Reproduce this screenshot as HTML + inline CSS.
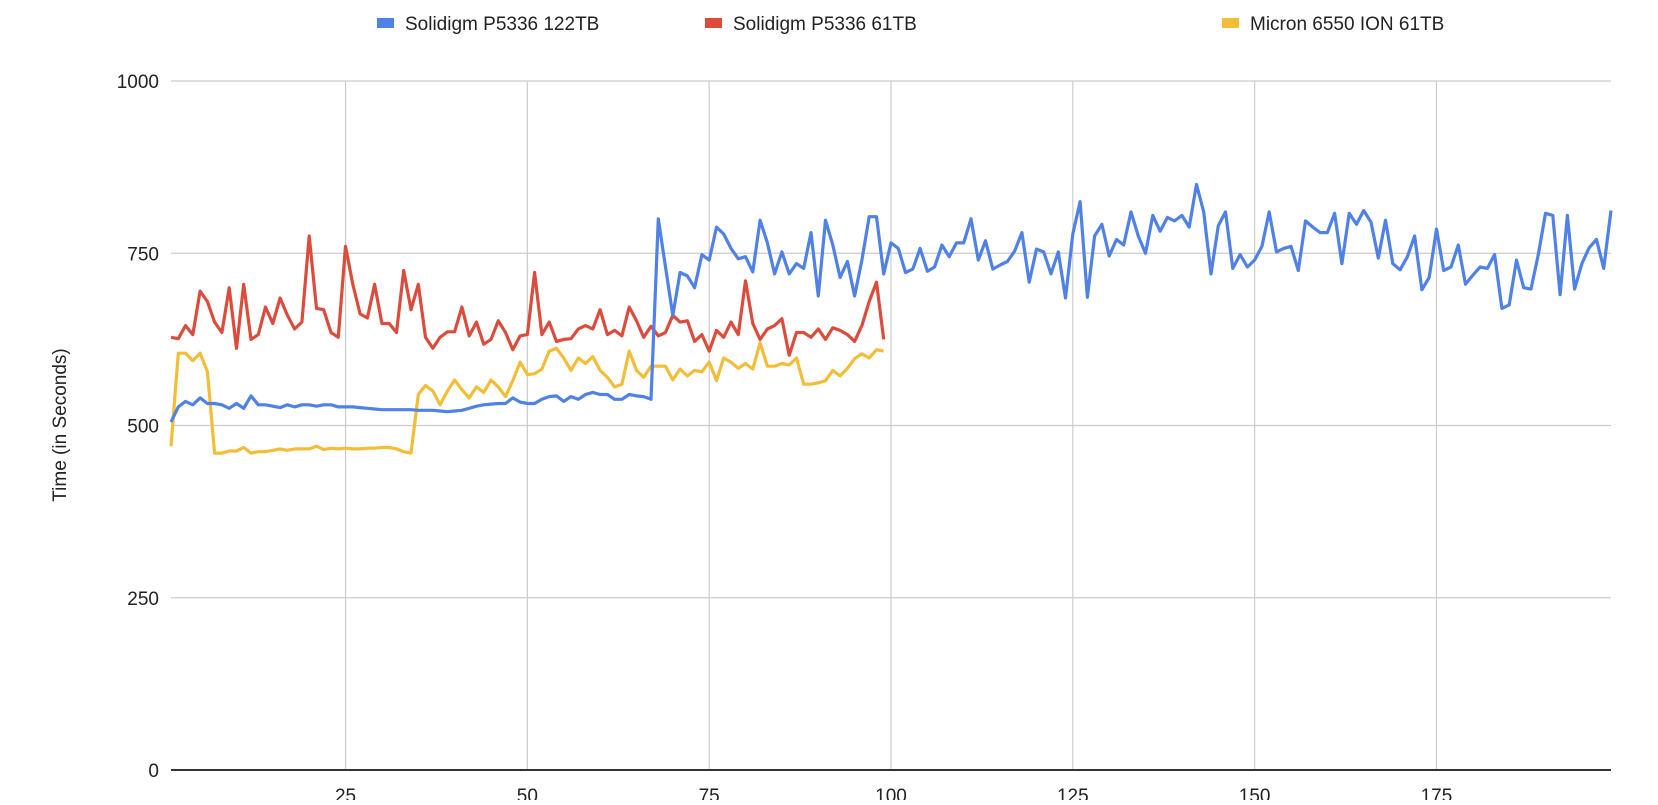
<!DOCTYPE html>
<html><head><meta charset="utf-8"><style>
body{margin:0;background:#fff;font-family:"Liberation Sans",Arial,sans-serif;overflow:hidden;}
svg text{font-family:"Liberation Sans",Arial,sans-serif;}
</style></head><body>
<svg id="chart" width="1658" height="800">
<g id="grid"></g>
<g id="axes"></g>
<g id="series"></g>
<g id="legend">
<rect x="377" y="18" width="17" height="10" fill="#4f81e6"/>
<text x="405" y="30" font-size="19" fill="#222">Solidigm P5336 122TB</text>
<rect x="705" y="18" width="17" height="10" fill="#dc4c3c"/>
<text x="733" y="30" font-size="19" fill="#222">Solidigm P5336 61TB</text>
<rect x="1222" y="18" width="17" height="10" fill="#f4bd38"/>
<text x="1250" y="30" font-size="19" fill="#222">Micron 6550 ION 61TB</text>
</g>
<text transform="translate(66,425) rotate(-90)" text-anchor="middle" font-size="19" fill="#222">Time (in Seconds)</text>
</svg>
<script>
const yTicks=[0,250,500,750,1000];
const xTicks=[25,50,75,100,125,150,175];
const blue=[505,527,535,530,540,532,532,530,525,532,525,543,530,530,528,526,530,527,530,530,528,530,530,527,527,527,526,525,524,523,523,523,523,523,522,522,522,521,520,521,522,525,528,530,531,532,532,540,534,532,532,538,542,543,535,542,538,545,548,545,545,538,538,545,543,542,538,800,730,660,722,717,700,748,740,788,778,757,742,745,723,798,765,720,752,720,735,728,780,688,798,762,715,738,688,740,803,803,720,765,757,722,727,757,724,730,762,745,765,765,800,740,768,727,733,738,753,780,708,756,752,720,752,685,778,825,686,775,792,746,770,762,810,775,750,805,782,802,797,805,788,850,810,720,790,810,728,748,730,740,760,810,752,757,760,725,797,788,780,780,808,735,808,792,812,795,743,798,735,726,745,775,697,715,785,725,730,762,705,718,730,728,748,670,675,740,700,698,748,808,805,690,805,698,735,758,770,728,812];
const red=[628,626,645,632,695,680,650,635,700,612,705,625,632,672,648,685,660,640,650,775,670,668,635,628,760,705,662,656,705,648,648,635,725,668,705,628,612,628,636,636,672,630,650,618,625,652,635,610,630,632,722,632,650,622,625,626,640,645,640,668,632,638,630,672,652,628,644,630,635,660,650,652,622,632,608,638,628,650,632,710,648,625,640,645,655,602,635,635,628,640,625,642,638,632,622,645,680,708,625];
const yellow=[470,605,605,594,605,578,460,460,463,463,468,460,462,462,464,466,464,466,466,466,470,465,467,466,467,466,466,467,467,468,468,466,462,460,545,558,550,530,550,566,552,540,556,548,566,556,542,565,592,574,575,582,608,612,598,580,598,590,600,580,570,556,560,608,580,570,586,586,586,566,582,572,580,578,592,565,598,592,583,590,582,620,586,586,590,588,598,560,560,562,565,580,572,583,597,604,598,610,608];
const L=171,R=1611,T=81,B=770;
const xMax=blue.length;
const xs=v=>L+(v-1)/(xMax-1)*(R-L);
const ys=v=>B-v/1000*(B-T);
const NS="http://www.w3.org/2000/svg";
const grid=document.getElementById('grid'),axes=document.getElementById('axes'),ser=document.getElementById('series');
function mk(tag,attrs,parent){const e=document.createElementNS(NS,tag);for(const k in attrs)e.setAttribute(k,attrs[k]);parent.appendChild(e);return e;}
xTicks.forEach(t=>{
 const l=mk('line',{x1:xs(t),x2:xs(t),y1:T,y2:B,stroke:'#ccc','stroke-width':1.2},grid);
 
 
 const tx=mk('text',{x:xs(t),y:802,'text-anchor':'middle','font-size':19,fill:'#222'},axes);
 tx.textContent=t;
 
 
});
yTicks.forEach(t=>{
 const l=mk('line',{x1:L,x2:R,y1:ys(t),y2:ys(t),stroke:t===0?'#333':'#ccc','stroke-width':t===0?2:1.2},grid);
 
 
 const tx=mk('text',{x:159,y:ys(t)+7,'text-anchor':'end','font-size':19,fill:'#222'},axes);
 tx.textContent=t;
 
 
});
function line(data,color,name){
 const d=data.map((v,i)=>(i?'L':'M')+xs(i+1).toFixed(1)+','+ys(v).toFixed(1)).join('');
 const p=mk('path',{d:d,fill:'none',stroke:color,'stroke-width':3.2,'stroke-linejoin':'round'},ser);
 
 
}
line(yellow,'#f4bd38','line-micron-6550-61tb');
line(red,'#dc4c3c','line-solidigm-61tb');
line(blue,'#4f81e6','line-solidigm-122tb');
</script>
</body></html>
